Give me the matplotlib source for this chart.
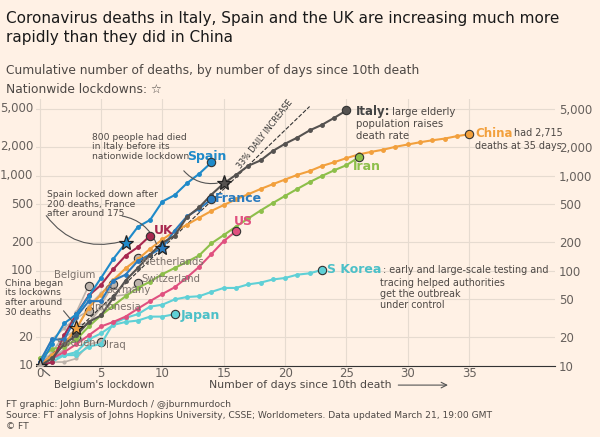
import matplotlib
matplotlib.use("Agg")
import matplotlib.pyplot as plt
import matplotlib.transforms as mtrans
import numpy as np

italy = [10,12,17,21,29,34,52,79,107,148,197,233,366,463,631,827,1016,1266,1441,1809,2158,2503,2978,3405,4032,4825]
china = [10,13,17,25,41,56,80,106,132,170,213,259,304,361,425,490,563,636,722,811,908,1016,1113,1259,1380,1523,1665,1770,1868,2004,2118,2236,2345,2442,2592,2715]
spain = [10,17,28,35,54,84,133,195,289,342,533,623,830,1043,1375]
france = [11,19,19,33,48,48,79,91,127,148,175,264,372,450,562]
uk = [10,11,21,35,55,71,104,144,177,233]
us = [11,12,14,17,21,26,29,33,40,48,57,67,85,110,150,205,260]
iran = [12,15,16,19,26,34,43,54,66,77,92,107,124,145,194,237,291,354,429,514,611,724,853,988,1135,1284,1556]
skorea = [11,12,13,13,16,17,28,32,35,42,44,50,53,54,60,66,66,72,75,81,84,91,94,102]
japan = [10,11,13,14,19,22,27,29,30,33,33,35]
grey_series = {
    "Netherlands": [10,12,20,24,43,58,76,106,136],
    "Switzerland": [11,13,14,27,28,41,54,56,75],
    "Belgium": [10,14,21,37,70],
    "Germany": [12,13,17,24,28,44,72],
    "Indonesia": [11,19,25,32,38],
    "Sweden": [10,12,15,20],
    "Iraq": [10,11,11,12,17,18],
}
lockdowns = {"Italy": 15, "Spain": 7, "France": 10, "China": 3}
yticks = [10, 20, 50, 100, 200, 500, 1000, 2000, 5000]
ytick_labels = ["10", "20", "50", "100", "200", "500", "1,000", "2,000", "5,000"]
xticks = [0, 5, 10, 15, 20, 25, 30, 35]

bg = "#fff1e5"
GREY = "#bdb3ab"
tc = "#4d4845"
fig = plt.figure(figsize=(6, 4.37), dpi=100, facecolor=bg)
ax = fig.add_axes([0.06, 0.1625, 0.865, 0.61], facecolor=bg)
ax.set_yscale("log")
ax.set_xlim(-0.3, 42)
ax.set_ylim(10, 6300)
for s in ax.spines.values():
    s.set_visible(False)
ax.spines["bottom"].set_visible(True)
ax.spines["bottom"].set_color("#333")
ax.set_yticks(yticks)
ax.set_yticklabels(ytick_labels)
ax.minorticks_off()
ax.set_xticks(xticks)
ax.tick_params(length=0, labelsize=8.5, colors="#66605c", pad=1)
ax.tick_params(axis="y", labelright=True, labelleft=False, pad=3)
ax.grid(True, color="#e6dbd0", lw=0.8)
ax.set_axisbelow(True)
ltr = mtrans.blended_transform_factory(ax.transAxes, ax.transData)
for v, s in zip(yticks, ytick_labels):
    if v != 50:
        ax.text(-0.005, v, s, transform=ltr, ha="right", va="center", fontsize=8.5, color="#66605c")

def draw(vals, color, lw=1.5, ms=2.5, end=True, z=3):
    x = np.arange(len(vals))
    ax.plot(x, vals, color=color, lw=lw, marker="o", ms=ms, zorder=z)
    if end:
        ax.plot(x[-1], vals[-1], "o", ms=6, mfc=color, mec="#333", mew=0.8, zorder=z+1)

for name, v in grey_series.items():
    draw(v, GREY, lw=1.2, ms=2, z=2)
xd = np.linspace(0, 22, 50)
ax.plot(xd, 10*1.33**xd, ls="--", color="#333", lw=0.8, zorder=2)
ax.text(18.4, 2700, "33% DAILY INCREASE", rotation=52, fontsize=5.8, color="#333", ha="center", va="center")

series = [(skorea, "#5fd0d6"), (japan, "#5fd0d6"), (us, "#e0507f"), (iran, "#8dbf4a"),
          (china, "#f2a03d"), (uk, "#a8284f"), (france, "#2a7bbf"), (spain, "#1f8ac9"), (italy, "#555250")]
for v, c in series:
    draw(v, c)

star = dict(marker="*", ms=11, mec="#222", mew=0.9, ls="none", zorder=6)
ax.plot(lockdowns["Italy"], italy[15], mfc="#555250", **star)
ax.plot(lockdowns["Spain"], spain[7], mfc="#1f8ac9", **star)
ax.plot(lockdowns["France"], france[10], mfc="#2a7bbf", **star)
ax.plot(lockdowns["China"], china[3], mfc="#f2a03d", **star)
ax.plot(0, 10, mfc=GREY, **star)

def lab(x, y, s, c, fs=9, **kw):
    return ax.text(x, y, s, color=c, fontsize=fs, fontweight="bold", **kw)

def follow(t, s, fs=7.3):
    ax.annotate(s, xy=(1, 0.5), xycoords=t, xytext=(1, 0), textcoords="offset points",
                fontsize=fs, color=tc, va="center", ha="left")

def below(t, s, fs=7.3, dx=0):
    ax.annotate(s, xy=(0, 0), xycoords=t, xytext=(dx, -1), textcoords="offset points",
                fontsize=fs, color=tc, va="top", ha="left", linespacing=1.15)

t = lab(25.8, 4700, "Italy:", "#444", fs=8.5, va="center")
follow(t, "large elderly")
below(t, "population raises\ndeath rate")
t = lab(35.5, 2780, "China", "#f2a03d", fs=8.5, va="center")
follow(t, "had 2,715", fs=6.9)
below(t, "deaths at 35 days", fs=6.9)
lab(25.5, 1250, "Iran", "#8dbf4a", va="center")
t = lab(23.4, 102, "S Korea", "#4cc0c8", va="center")
follow(t, ": early and large-scale testing and", fs=6.9)
below(t, "tracing helped authorities\nget the outbreak\nunder control", fs=6.9, dx=38)
lab(11.5, 34, "Japan", "#4cc0c8", va="center")
lab(12.0, 1600, "Spain", "#1f8ac9", va="center")
lab(14.3, 570, "France", "#2a7bbf", va="center")
lab(9.3, 265, "UK", "#a8284f", va="center")
lab(15.8, 330, "US", "#e0507f", va="center")
for s, x, y in [("Netherlands", 8.3, 125), ("Switzerland", 8.3, 82), ("Germany", 5.3, 63),
                ("Belgium", 1.2, 90), ("Indonesia", 4.3, 42), ("Sweden", 1.4, 17.5), ("Iraq", 5.4, 16.5)]:
    ax.text(x, y, s, fontsize=7.3, color="#7a716b", va="center")
ax.text(4.3, 2000, "800 people had died\nin Italy before its\nnationwide lockdown", fontsize=6.6, color=tc, va="center", linespacing=1.1)
ax.annotate("", xy=(14.7, 840), xytext=(11.6, 1180), arrowprops=dict(arrowstyle="-", color="#555", connectionstyle="arc3,rad=0.3", lw=0.8))
ax.text(0.6, 500, "Spain locked down after\n200 deaths, France\nafter around 175", fontsize=6.6, color=tc, va="center", linespacing=1.1)
ax.annotate("", xy=(6.8, 205), xytext=(0.4, 400), arrowprops=dict(arrowstyle="-", color="#555", connectionstyle="arc3,rad=0.35", lw=0.8))
ax.annotate("", xy=(9.6, 180), xytext=(6.5, 380), arrowprops=dict(arrowstyle="-", color="#555", connectionstyle="arc3,rad=-0.3", lw=0.8))
ax.text(-2.8, 52, "China began\nits lockowns\nafter around\n30 deaths", fontsize=6.6, color=tc, va="center", linespacing=1.1)
ax.annotate("", xy=(2.9, 27), xytext=(1.8, 40), arrowprops=dict(arrowstyle="-", color="#555", lw=0.8))
ax.annotate("Belgium's lockdown", xy=(0.1, 9.6), xytext=(1.2, 6.3), fontsize=7.3, color=tc, va="center",
            annotation_clip=False, arrowprops=dict(arrowstyle="-", color="#555", connectionstyle="arc3,rad=-0.3", lw=0.8))
ax.annotate("", xy=(33.5, 6.3), xytext=(29, 6.3), annotation_clip=False,
            arrowprops=dict(arrowstyle="->", color="#555", lw=0.8))
ax.text(13.8, 6.3, "Number of days since 10th death", fontsize=7.8, color=tc, va="center")

fig.text(0.01, 0.975, "Coronavirus deaths in Italy, Spain and the UK are increasing much more\nrapidly than they did in China",
         fontsize=11, color="#1a1a1a", va="top", linespacing=1.3)
fig.text(0.01, 0.853, "Cumulative number of deaths, by number of days since 10th death", fontsize=8.8, color="#4d4845", va="top")
fig.text(0.01, 0.81, "Nationwide lockdowns: \u2606", fontsize=8.8, color="#4d4845", va="top")
fig.text(0.01, 0.085, "FT graphic: John Burn-Murdoch / @jburnmurdoch\nSource: FT analysis of Johns Hopkins University, CSSE; Worldometers. Data updated March 21, 19:00 GMT\n\u00a9 FT",
         fontsize=6.6, color="#4d4845", va="top", linespacing=1.3)
fig.savefig("out.png", dpi=100, facecolor=bg)
